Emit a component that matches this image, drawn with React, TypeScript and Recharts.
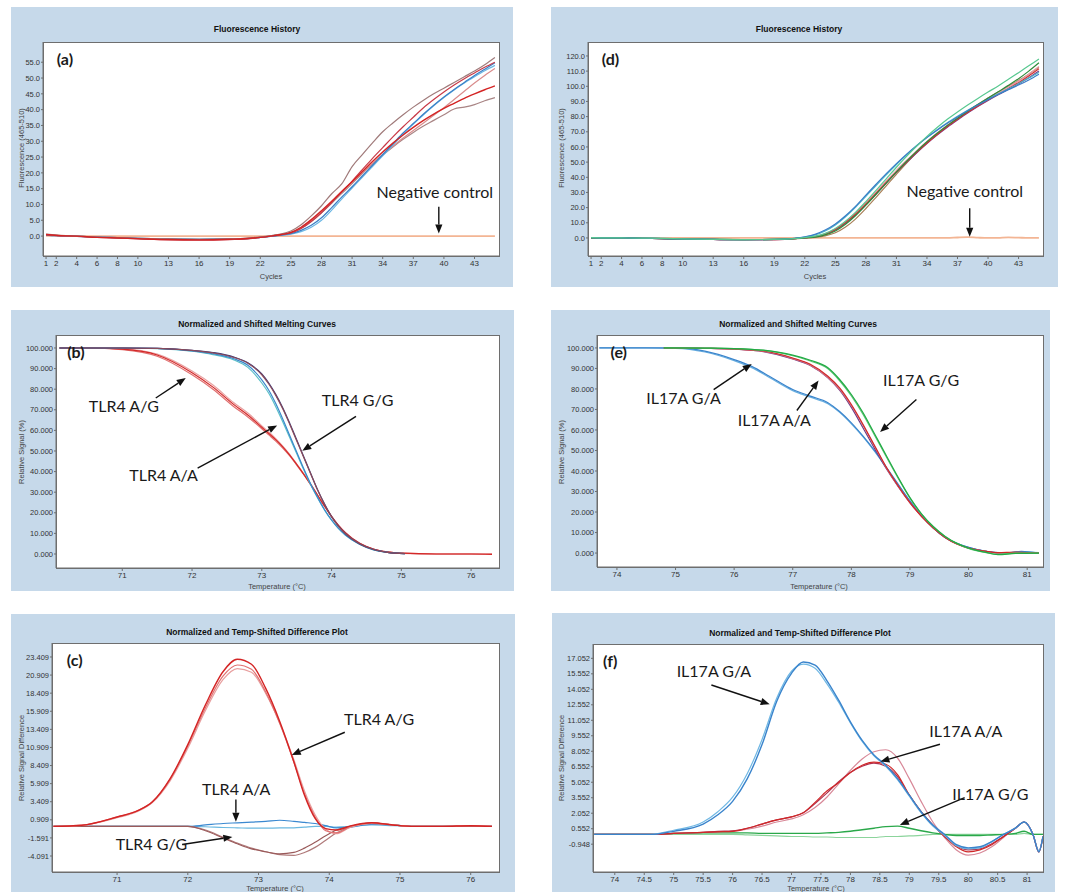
import React from 'react';
import { LineChart, Line, XAxis, YAxis, ReferenceLine, ReferenceDot } from 'recharts';

// ---- (a) / (d) amplification curves, sampled cycles ----
const CYCLES = [1, 2, 4, 6, 8, 10, 13, 16, 19, 21, 22, 23, 24, 25, 26, 27, 28, 29, 30, 31, 32, 33, 34, 35, 36, 37, 38, 39, 40, 41, 42, 43, 44, 45];
const CYCLE_TICKS = [1, 2, 4, 6, 8, 10, 13, 16, 19, 22, 25, 28, 31, 34, 37, 40, 43];
const A_Y_TICKS = [0, 5, 10, 15, 20, 25, 30, 35, 40, 45, 50, 55];
const D_Y_TICKS = [0, 10, 20, 30, 40, 50, 60, 70, 80, 90, 100, 110, 120];

const A_MAUVE = [0.6, 0.3, 0.0, -0.3, -0.5, -0.7, -0.9, -1.0, -0.9, -0.6, -0.3, 0.1, 0.6, 1.6, 3.6, 6.4, 9.6, 13.4, 16.6, 22.0, 25.8, 29.5, 33.0, 35.8, 38.4, 40.8, 43.0, 45.0, 46.8, 48.6, 50.4, 52.2, 54.2, 56.5];
const A_RED = [0.5, 0.2, 0.0, -0.4, -0.6, -0.8, -1.1, -1.2, -1.0, -0.7, -0.4, 0.0, 0.5, 1.2, 2.8, 5.2, 8.0, 11.0, 14.2, 17.2, 20.4, 23.6, 26.6, 29.4, 32.0, 34.4, 36.6, 38.6, 40.4, 42.0, 43.6, 45.0, 46.3, 47.5];
const A_DARKRED = [0.4, 0.2, -0.1, -0.4, -0.6, -0.9, -1.2, -1.3, -1.1, -0.8, -0.4, 0.0, 0.4, 1.0, 2.4, 4.6, 7.4, 10.6, 14.0, 17.4, 21.0, 24.6, 28.0, 31.4, 34.6, 37.6, 40.6, 43.2, 45.6, 47.8, 49.8, 51.6, 53.4, 55.0];
const A_BLUE = [0.3, 0.1, -0.1, -0.3, -0.5, -0.7, -0.9, -1.0, -0.9, -0.7, -0.4, -0.1, 0.3, 0.8, 1.8, 3.4, 5.8, 9.0, 12.4, 15.6, 19.0, 22.4, 25.8, 29.2, 32.6, 35.6, 38.6, 41.4, 44.0, 46.4, 48.6, 50.8, 52.8, 54.8];
const A_LIGHTBLUE = [0.3, 0.1, -0.1, -0.3, -0.5, -0.7, -0.9, -1.0, -0.9, -0.7, -0.4, -0.1, 0.2, 0.6, 1.4, 2.8, 5.0, 8.2, 11.8, 15.2, 18.6, 22.0, 25.4, 28.8, 32.2, 35.4, 38.4, 41.2, 43.8, 46.2, 48.4, 50.4, 52.3, 54.0];
const A_PINK = [0.5, 0.2, 0.0, -0.3, -0.5, -0.8, -1.0, -1.1, -1.0, -0.7, -0.4, 0.0, 0.5, 1.1, 2.6, 5.0, 7.8, 10.8, 14.0, 17.0, 20.0, 23.0, 25.8, 28.4, 31.0, 33.4, 35.8, 38.2, 40.6, 43.2, 45.8, 48.4, 50.8, 53.0];
const A_BROWN = [0.5, 0.2, 0.0, -0.3, -0.5, -0.7, -0.9, -1.0, -0.9, -0.6, -0.3, 0.1, 0.5, 1.0, 2.4, 4.6, 7.4, 10.4, 13.5, 16.6, 19.8, 22.8, 25.6, 28.2, 30.6, 32.8, 34.8, 36.6, 38.4, 40.2, 40.8, 41.6, 42.8, 43.8];
const A_NEG = [0.1, 0.1, 0, 0, 0, 0, 0, 0, 0, 0, 0, 0, 0, 0, 0, 0, 0, 0, 0, 0, 0, 0, 0, 0, 0, 0, 0, 0, 0, 0, 0, 0, 0, 0];

const D_LIGHTGREEN = [0.2, 0.1, 0, -0.1, -0.3, -0.6, -0.9, -1.1, -1.0, -0.5, 0.3, 1.2, 3.0, 6.2, 11.0, 17.0, 24.0, 31.4, 39.0, 46.6, 53.8, 60.6, 67.0, 72.8, 78.2, 83.0, 87.6, 92.0, 96.2, 100.2, 104.6, 109.0, 113.5, 118.0];
const D_BLUE = [0.2, 0.1, 0, -0.2, -0.4, -0.7, -1.0, -1.2, -1.0, -0.2, 0.8, 2.4, 5.2, 9.2, 14.6, 21.0, 28.2, 35.4, 42.4, 49.0, 55.2, 61.0, 66.2, 71.0, 75.6, 79.8, 83.8, 87.6, 91.2, 94.6, 97.8, 100.8, 104.2, 108.0];
const D_DARKGREEN = [0.1, 0.0, 0, -0.2, -0.4, -0.7, -1.0, -1.1, -1.0, -0.5, 0.1, 0.6, 2.0, 4.6, 9.0, 14.8, 21.6, 28.8, 36.2, 43.6, 50.6, 57.2, 63.4, 69.0, 74.2, 79.0, 83.6, 88.0, 92.2, 96.4, 100.6, 105.0, 110.0, 115.5];
const D_RED = [0.1, 0.0, 0, -0.2, -0.4, -0.7, -1.0, -1.2, -1.1, -0.5, 0.2, 0.9, 2.6, 5.6, 10.2, 15.8, 22.4, 29.4, 36.6, 43.6, 50.2, 56.6, 62.6, 68.2, 73.4, 78.2, 82.8, 87.0, 91.0, 94.8, 98.6, 102.4, 106.8, 111.5];
const D_PURPLE = [0.1, 0.0, 0, -0.2, -0.4, -0.7, -1.0, -1.2, -1.1, -0.5, 0.2, 0.8, 2.4, 5.2, 9.8, 15.4, 22.0, 29.0, 36.2, 43.2, 49.8, 56.2, 62.2, 67.8, 73.0, 77.8, 82.4, 86.6, 90.6, 94.4, 98.0, 101.6, 105.6, 110.0];
const D_TEAL = [0.2, 0.1, 0, -0.1, -0.3, -0.6, -0.9, -1.1, -1.0, -0.3, 0.6, 2.0, 4.6, 8.6, 14.0, 20.4, 27.4, 34.6, 41.6, 48.4, 54.8, 60.8, 66.4, 71.4, 76.0, 80.2, 84.2, 88.0, 91.6, 95.0, 98.4, 101.8, 105.4, 109.2];
const D_BROWN = [0.1, 0.0, 0, -0.2, -0.4, -0.7, -1.0, -1.1, -1.0, -0.6, -0.1, 0.4, 1.4, 3.4, 7.2, 12.6, 19.4, 26.8, 34.4, 42.0, 49.4, 56.4, 62.8, 68.6, 74.0, 79.0, 83.6, 88.0, 92.2, 96.2, 100.0, 103.8, 108.0, 112.5];
const D_PINK = [0.1, 0.0, 0, -0.2, -0.4, -0.7, -1.0, -1.2, -1.1, -0.5, 0.2, 0.9, 2.8, 6.0, 10.8, 16.6, 23.4, 30.4, 37.6, 44.6, 51.2, 57.6, 63.6, 69.2, 74.4, 79.2, 83.8, 88.0, 92.0, 95.8, 99.6, 103.4, 108.0, 113.0];
const D_NEG = [0, 0, 0, 0, 0, 0, 0, 0, 0, 0, 0, 0, 0, 0, 0, 0, 0, 0, 0, 0, 0, 0, 0, 0, 0, 0.3, 0.5, 0.2, 0, 0.1, 0.4, 0.2, 0, 0.1];

// ---- (b) TLR4 melting curves ----
const B_X_TICKS = [71, 72, 73, 74, 75, 76];
const MELT_Y_TICKS = [0, 10, 20, 30, 40, 50, 60, 70, 80, 90, 100];
const B_TEMP_AG = [70.1, 70.5, 71, 71.5, 72, 72.3, 72.6, 72.8, 73, 73.1, 73.2, 73.3, 73.4, 73.5, 73.6, 73.7, 73.8, 73.9, 74, 74.1, 74.2, 74.4, 74.6, 74.8, 75, 75.5, 76, 76.3];
const B_AG_1 = [100, 100, 99.4, 96.6, 88, 81, 72.5, 67.5, 61.5, 58.5, 55.5, 52, 48, 43.5, 38.8, 33.8, 28.5, 23.2, 18.2, 13.8, 10.2, 5.2, 2.4, 1.0, 0.4, 0, 0, -0.2];
const B_AG_2 = [100, 100, 99.2, 96.0, 87, 80, 71.5, 66.5, 60.8, 57.8, 54.8, 51.4, 47.6, 43.2, 38.6, 33.6, 28.4, 23.2, 18.3, 13.9, 10.3, 5.3, 2.4, 1.0, 0.4, 0, 0, 0];
const B_AG_3 = [100, 100, 99.6, 97.0, 88.8, 82, 73.4, 68.4, 62.2, 59.2, 56.0, 52.4, 48.4, 43.8, 39.0, 34.0, 28.6, 23.3, 18.3, 13.9, 10.2, 5.2, 2.3, 0.9, 0.3, 0, 0, 0];
const B_TEMP_HOM = [70.1, 70.5, 71, 71.5, 72, 72.3, 72.6, 72.8, 73, 73.1, 73.2, 73.3, 73.4, 73.5, 73.6, 73.7, 73.8, 73.9, 74, 74.1, 74.2, 74.4, 74.6, 74.8, 75.05];
const B_GG_1 = [100, 100, 100, 99.8, 98.8, 97.6, 95.4, 92.6, 87, 82.5, 77, 70.5, 63, 55, 47, 39, 31, 24, 18, 13.4, 9.8, 5, 2.2, 0.8, 0.2];
const B_GG_2 = [100, 100, 100, 99.8, 98.9, 97.8, 95.6, 92.8, 87.4, 83, 77.5, 71, 63.5, 55.5, 47.3, 39.2, 31.2, 24.2, 18.2, 13.5, 9.8, 5, 2.2, 0.8, 0.2];
const B_AA_1 = [100, 100, 100, 99.8, 98.6, 97.2, 94.8, 91.6, 84.5, 79.5, 73, 65.5, 57.5, 49.5, 41.5, 34, 27.5, 21.5, 16.5, 12.4, 9.2, 4.8, 2.1, 0.8, 0.2];
const B_AA_2 = [100, 100, 100, 99.7, 98.4, 96.8, 94.2, 90.6, 83, 78, 71.5, 64.2, 56.5, 48.8, 41, 33.6, 27.2, 21.3, 16.4, 12.3, 9.1, 4.7, 2.0, 0.8, 0.2];

// ---- (e) IL17A melting curves ----
const E_X_TICKS = [74, 75, 76, 77, 78, 79, 80, 81];
const E_TEMP_GA = [73.7, 74.5, 75, 75.5, 76, 76.3, 76.6, 77, 77.3, 77.6, 77.8, 78, 78.2, 78.4, 78.6, 78.8, 79, 79.2, 79.4, 79.6, 79.8, 80, 80.3, 80.6, 80.9, 81.2];
const E_GA_1 = [100, 100, 100, 98.4, 94.3, 91, 86.2, 79.7, 76.5, 73.3, 69, 63.5, 57, 49.8, 41.7, 33.5, 25.4, 18.2, 12.2, 7.6, 4.7, 2.8, 0.8, 0, 0.8, 0];
const E_GA_2 = [100, 100, 99.8, 98.0, 93.8, 90.4, 85.6, 79.2, 76.0, 72.8, 68.6, 63.0, 56.6, 49.4, 41.4, 33.3, 25.3, 18.1, 12.2, 7.6, 4.7, 2.8, 0.8, 0.1, 0.6, 0.2];
const E_TEMP_HOM = [74.8, 75.5, 76, 76.5, 77, 77.3, 77.6, 77.8, 78, 78.2, 78.4, 78.6, 78.8, 79, 79.2, 79.4, 79.6, 79.8, 80, 80.3, 80.5, 80.8, 81.2];
const E_AA_1 = [100, 99.8, 99.5, 98.5, 95.1, 92, 86.2, 80.5, 72.4, 62.7, 52.2, 41.7, 32.7, 24.6, 17.8, 12.2, 7.6, 4.4, 2.4, 0.8, 0.2, 0.4, 0];
const E_AA_2 = [100, 99.8, 99.4, 98.3, 94.8, 91.6, 85.6, 79.8, 71.8, 62.2, 51.8, 41.4, 32.5, 24.5, 17.8, 12.2, 7.6, 4.4, 2.4, 0.8, 0.0, 0.3, 0];
const E_AA_3 = [100, 99.8, 99.4, 98.2, 94.6, 91.4, 85.4, 79.4, 71.0, 61.0, 50.8, 41.0, 32.4, 24.6, 17.9, 12.2, 7.6, 4.5, 2.5, 0.8, 0.0, 0.3, 0];
const E_GG_1 = [100, 99.9, 99.7, 98.9, 96.5, 94, 90.3, 84.6, 77.3, 68.4, 57.9, 47.3, 36.8, 27, 19, 12.8, 8.1, 4.7, 2.4, 0.3, -0.8, -0.2, 0];
const E_GG_2 = [100, 99.9, 99.7, 98.8, 96.2, 93.6, 89.8, 84.0, 76.6, 67.6, 57.2, 46.7, 36.4, 26.8, 18.9, 12.8, 8.1, 4.7, 2.3, 0.2, -0.6, 0.0, 0];

// ---- (c) TLR4 difference plot ----
const C_X_TICKS = [71, 72, 73, 74, 75, 76];
const C_Y_TICKS = [-4.091, -1.591, 0.909, 3.409, 5.909, 8.409, 10.909, 13.409, 15.909, 18.409, 20.909, 23.409];
const C_TEMP = [70.1, 70.5, 71, 71.3, 71.5, 71.75, 72, 72.25, 72.5, 72.7, 72.9, 73.1, 73.3, 73.5, 73.65, 73.8, 73.95, 74.1, 74.3, 74.6, 74.9, 75.2, 75.6, 76, 76.3];
const C_AG_1 = [0, 0.16, 1.3, 2.2, 3.4, 6.6, 11.3, 16.8, 21.4, 23.1, 22.4, 19.1, 14.5, 8.9, 4.3, 1.1, -0.3, -0.5, 0.07, 0.5, 0.2, 0, 0, 0.1, 0];
const C_AG_2 = [0, 0.15, 1.3, 2.2, 3.4, 6.5, 11.1, 16.4, 20.8, 22.3, 21.7, 18.6, 14.2, 8.9, 4.5, 1.3, -0.6, -0.9, 0, 0.5, 0.2, 0, 0, 0.1, 0];
const C_AG_3 = [0, 0.15, 1.2, 2.1, 3.3, 6.3, 10.8, 16.0, 20.3, 21.8, 21.3, 18.4, 14.3, 9.2, 4.9, 1.6, -0.4, -1.0, -0.1, 0.4, 0.2, 0, 0, 0.1, 0];
const C_GG_1 = [0, 0, 0, 0, 0, 0, 0, -0.6, -1.6, -2.4, -3.1, -3.5, -3.8, -3.6, -3.0, -2.2, -1.3, -0.5, 0, 0.5, 0.2, 0, 0, 0, 0];
const C_GG_2 = [0, 0, 0, 0, 0, 0, 0, -0.5, -1.5, -2.3, -3.0, -3.5, -3.9, -4.0, -3.6, -2.9, -1.9, -0.9, -0.1, 0.4, 0.2, 0, 0, 0, 0];
const C_AA_1 = [0, 0, 0, 0, 0, 0, 0, 0.2, 0.4, 0.5, 0.6, 0.7, 0.85, 0.7, 0.55, 0.4, 0.1, -0.2, -0.1, 0.3, 0.2, 0, 0, 0, 0];
const C_AA_2 = [0, 0, 0, 0, 0, 0, 0, -0.05, -0.15, -0.2, -0.25, -0.25, -0.2, -0.2, -0.1, 0, 0, -0.1, 0, 0.2, 0.1, 0, 0, 0, 0];

// ---- (f) IL17A difference plot ----
const F_X_TICKS = [74, 74.5, 75, 75.5, 76, 76.5, 77, 77.5, 78, 78.5, 79, 79.5, 80, 80.5, 81];
const F_Y_TICKS = [-0.948, 0.552, 2.052, 3.552, 5.052, 6.552, 8.052, 9.552, 11.052, 12.552, 14.052, 15.552, 17.052];
const F_TEMP = [73.65, 74.6, 75, 75.5, 75.75, 76, 76.25, 76.5, 76.75, 77, 77.2, 77.4, 77.6, 77.8, 78, 78.2, 78.4, 78.6, 78.8, 79, 79.2, 79.4, 79.6, 79.8, 80, 80.2, 80.4, 80.6, 80.8, 80.95, 81.1, 81.2, 81.27];
const F_GA_1 = [0, 0, 0.3, 1.0, 1.9, 3.2, 5.4, 8.7, 12.9, 15.6, 16.7, 16.4, 14.9, 13.0, 10.9, 9.1, 7.7, 6.7, 5.4, 3.8, 2.2, 0.9, 0, -1.0, -1.3, -1.2, -0.7, 0, 0.6, 1.2, 0, -1.7, -0.2];
const F_GA_2 = [0, 0, 0.4, 1.2, 2.2, 3.6, 5.9, 9.2, 13.2, 15.8, 16.5, 16.1, 14.6, 12.8, 10.8, 9.0, 7.6, 6.6, 5.3, 3.7, 2.1, 0.8, -0.1, -1.1, -1.4, -1.3, -0.7, 0, 0.6, 1.2, 0, -1.6, -0.2];
const F_AA_1 = [0, 0, 0.1, 0.2, 0.25, 0.3, 0.6, 1.0, 1.4, 1.7, 2.1, 3.1, 4.2, 5.0, 6.0, 6.7, 7.0, 6.8, 5.8, 3.8, 2.2, 0.9, -0.2, -1.2, -1.7, -1.5, -1.0, -0.2, 0.6, 1.2, 0, -1.7, -0.2];
const F_AA_2 = [0, 0, 0.1, 0.2, 0.25, 0.3, 0.5, 0.8, 1.2, 1.5, 1.9, 2.6, 3.6, 4.9, 6.2, 7.3, 8.0, 8.2, 7.4, 5.4, 3.2, 1.2, -0.3, -1.5, -2.0, -1.8, -1.2, -0.3, 0.6, 1.2, 0, -1.6, -0.2];
const F_AA_3 = [0, 0, 0.1, 0.2, 0.3, 0.35, 0.6, 1.0, 1.4, 1.7, 2.1, 3.0, 4.0, 5.1, 6.0, 6.6, 6.9, 6.6, 5.6, 3.8, 2.2, 0.9, -0.2, -1.1, -1.5, -1.4, -0.9, -0.2, 0.6, 1.2, 0, -1.7, -0.2];
const F_GG_1 = [0, 0, 0.1, 0.15, 0.15, 0.15, 0.15, 0.1, 0.1, 0.1, 0.1, 0.1, 0.15, 0.2, 0.3, 0.45, 0.6, 0.75, 0.8, 0.6, 0.35, 0.15, 0, -0.1, -0.1, -0.1, -0.05, 0, 0.1, 0.3, 0, 0, 0];
const F_GG_2 = [0, 0, 0, 0, 0, 0, -0.05, -0.1, -0.15, -0.2, -0.2, -0.25, -0.25, -0.3, -0.3, -0.3, -0.3, -0.2, -0.2, -0.15, -0.1, 0, 0, 0, 0, 0, 0, 0, 0, 0.1, 0, 0, 0];

// annotations, in data units
const A_NOTES = [{ text: '(a)', x: 2.05, y: 54.1, bold: true }, { text: 'Negative control', x: 33.4, y: 12.2 }];
const A_ARROWS = [{ x1: 39.5, y1: 9.3, x2: 39.5, y2: 0.85 }];
const D_NOTES = [{ text: '(d)', x: 2.05, y: 114, bold: true }, { text: 'Negative control', x: 32.0, y: 27.2 }];
const D_ARROWS = [{ x1: 38.2, y1: 19.6, x2: 38.2, y2: 0.8 }];
const B_NOTES = [{ text: '(b)', x: 70.21, y: 95.1, bold: true }, { text: 'TLR4 A/G', x: 70.52, y: 68.9 }, { text: 'TLR4 G/G', x: 73.86, y: 71.6 }, { text: 'TLR4 A/A', x: 71.1, y: 35.5 }];
const B_ARROWS = [{ x1: 71.48, y1: 75.7, x2: 71.91, y2: 85.4 }, { x1: 74.35, y1: 66.8, x2: 73.58, y2: 50.1 }, { x1: 72.08, y1: 41.7, x2: 73.22, y2: 62.4 }];
const E_NOTES = [{ text: '(e)', x: 73.89, y: 95.1, bold: true }, { text: 'IL17A G/A', x: 74.5, y: 72.8 }, { text: 'IL17A A/A', x: 76.06, y: 61.9 }, { text: 'IL17A G/G', x: 78.54, y: 81.4 }];
const E_ARROWS = [{ x1: 75.65, y1: 79.7, x2: 76.3, y2: 92.2 }, { x1: 77.07, y1: 69.5, x2: 77.44, y2: 84.1 }, { x1: 79.11, y1: 74.9, x2: 78.49, y2: 59 }];
const C_NOTES = [{ text: '(c)', x: 70.29, y: 22.1, bold: true }, { text: 'TLR4 A/G', x: 74.21, y: 14.03 }, { text: 'TLR4 A/A', x: 72.2, y: 4.32 }, { text: 'TLR4 G/G', x: 70.98, y: -3.3 }];
const C_ARROWS = [{ x1: 74.22, y1: 13.01, x2: 73.47, y2: 9.87 }, { x1: 72.68, y1: 3.72, x2: 72.68, y2: 0.63 }, { x1: 71.92, y1: -2.5, x2: 72.63, y2: -1.45 }];
const F_NOTES = [{ text: '(f)', x: 73.8, y: 16.2, bold: true }, { text: 'IL17A G/A', x: 75.05, y: 15.28 }, { text: 'IL17A A/A', x: 79.34, y: 9.47 }, { text: 'IL17A G/G', x: 79.73, y: 3.34 }];
const F_ARROWS = [{ x1: 75.64, y1: 14.47, x2: 76.63, y2: 12.6 }, { x1: 79.52, y1: 8.73, x2: 78.51, y2: 7.05 }, { x1: 79.94, y1: 3.57, x2: 78.84, y2: 0.92 }];

const FRAME_BG = '#c6d9ea';
const UI_FONT = '"Liberation Sans", Arial, sans-serif';
const NOTE_FONT = 'Lato, "Open Sans", sans-serif';

const pts = (xs: number[], ys: number[]) => xs.map((x, i) => ({ x, y: ys[i] }));

const Arrow = (p: any) => {
  const { x1, y1, x2, y2 } = p;
  const ang = Math.atan2(y2 - y1, x2 - x1);
  const len = 9;
  const hw = 3.6;
  const bx = x2 - len * Math.cos(ang);
  const by = y2 - len * Math.sin(ang);
  const s = Math.sin(ang);
  const c = Math.cos(ang);
  return (
    <g>
      <line x1={x1} y1={y1} x2={bx} y2={by} stroke="#111" strokeWidth={1.4} />
      <polygon points={`${x2},${y2} ${bx + hw * s},${by - hw * c} ${bx - hw * s},${by + hw * c}`} fill="#111" />
    </g>
  );
};

const noteShape = (text: string, bold?: boolean) => (p: any) => (
  <text x={p.cx} y={p.cy} fill="#1a1a1a" fontFamily={NOTE_FONT} fontSize={16} fontWeight={bold ? 700 : 400}>
    {text}
  </text>
);

type Box = { l: number; t: number; r: number; b: number };
type Series = { x: number[]; y: number[]; color: string; w?: number };

interface PanelProps {
  frame: Box;
  plot: Box;
  title: string;
  titleAt: [number, number];
  xLabel: string;
  xLabelAt: [number, number];
  yLabel: string;
  yLabelAt: [number, number];
  xDomain: [number, number];
  yDomain: [number, number];
  xTicks: number[];
  yTicks: number[];
  xFmt: (v: number) => string;
  yFmt: (v: number) => string;
  series: Series[];
  notes: { text: string; x: number; y: number; bold?: boolean }[];
  arrows: { x1: number; y1: number; x2: number; y2: number }[];
}

function Panel(p: PanelProps) {
  const W = p.frame.r - p.frame.l;
  const H = p.frame.b - p.frame.t;
  const xAxisH = 20;
  const tickStyle = { fontSize: 7.5, fill: '#333', fontFamily: UI_FONT };
  return (
    <>
      <div style={{ position: 'absolute', left: p.frame.l, top: p.frame.t, width: W, height: H, background: FRAME_BG }}>
        <div
          style={{
            position: 'absolute',
            left: p.plot.l - p.frame.l,
            top: p.plot.t - p.frame.t,
            width: p.plot.r - p.plot.l + 1,
            height: p.plot.b - p.plot.t + 1,
            background: '#fff',
            border: '1px solid #6e6e6e',
            boxSizing: 'border-box',
          }}
        />
        <div style={{ position: 'absolute', left: 0, top: 0 }}>
          <LineChart
            width={W}
            height={H}
            margin={{ top: p.plot.t - p.frame.t, right: p.frame.r - p.plot.r, bottom: Math.max(0, p.frame.b - p.plot.b - xAxisH), left: 0 }}
          >
            <XAxis
              type="number"
              dataKey="x"
              domain={p.xDomain}
              ticks={p.xTicks}
              interval={0}
              allowDataOverflow
              height={xAxisH}
              tick={{ ...tickStyle, fontSize: 8 }}
              tickFormatter={p.xFmt}
              tickSize={3}
              tickMargin={1}
              axisLine={{ stroke: '#6e6e6e' }}
              tickLine={{ stroke: '#6e6e6e' }}
            />
            <YAxis
              type="number"
              domain={p.yDomain}
              ticks={p.yTicks}
              interval={0}
              allowDataOverflow
              width={p.plot.l - p.frame.l}
              tick={tickStyle}
              tickFormatter={p.yFmt}
              tickSize={2}
              tickMargin={1}
              axisLine={{ stroke: '#6e6e6e' }}
              tickLine={{ stroke: '#6e6e6e' }}
            />
            {p.series.map((s, i) => (
              <Line
                key={i}
                data={pts(s.x, s.y)}
                dataKey="y"
                type="monotone"
                stroke={s.color}
                strokeWidth={s.w ?? 1.2}
                dot={false}
                activeDot={false}
                isAnimationActive={false}
              />
            ))}
            {p.arrows.map((a, i) => (
              <ReferenceLine
                key={'a' + i}
                segment={[{ x: a.x1, y: a.y1 }, { x: a.x2, y: a.y2 }]}
                shape={Arrow}
                ifOverflow="visible"
              />
            ))}
            {p.notes.map((n, i) => (
              <ReferenceDot key={'n' + i} x={n.x} y={n.y} r={0} ifOverflow="visible" shape={noteShape(n.text, n.bold)} />
            ))}
          </LineChart>
        </div>
      </div>
      <div
        style={{
          position: 'absolute',
          left: p.titleAt[0],
          top: p.titleAt[1],
          transform: 'translate(-50%, -50%)',
          fontFamily: UI_FONT,
          fontWeight: 700,
          fontSize: 8.5,
          color: '#111',
          whiteSpace: 'nowrap',
        }}
      >
        {p.title}
      </div>
      <div
        style={{
          position: 'absolute',
          left: p.xLabelAt[0],
          top: p.xLabelAt[1],
          transform: 'translate(-50%, -50%)',
          fontFamily: UI_FONT,
          fontSize: 7.5,
          color: '#444',
          whiteSpace: 'nowrap',
        }}
      >
        {p.xLabel}
      </div>
      <div
        style={{
          position: 'absolute',
          left: p.yLabelAt[0],
          top: p.yLabelAt[1],
          transform: 'translate(-50%, -50%) rotate(-90deg)',
          fontFamily: UI_FONT,
          fontSize: 7.5,
          color: '#444',
          whiteSpace: 'nowrap',
        }}
      >
        {p.yLabel}
      </div>
    </>
  );
}

const f1 = (v: number) => v.toFixed(1);
const f3 = (v: number) => v.toFixed(3);
const f0 = (v: number) => String(v);

const SERIES_A: Series[] = [
  { x: CYCLES, y: A_NEG, color: '#f3b594', w: 1.8 },
  { x: CYCLES, y: A_BROWN, color: '#a98585' },
  { x: CYCLES, y: A_PINK, color: '#d98c8c' },
  { x: CYCLES, y: A_LIGHTBLUE, color: '#6cb8e4' },
  { x: CYCLES, y: A_BLUE, color: '#3a7fc6' },
  { x: CYCLES, y: A_DARKRED, color: '#c83a48' },
  { x: CYCLES, y: A_MAUVE, color: '#a07a7a' },
  { x: CYCLES, y: A_RED, color: '#d42424', w: 1.4 },
];

const SERIES_D: Series[] = [
  { x: CYCLES, y: D_NEG, color: '#f3b594', w: 1.8 },
  { x: CYCLES, y: D_BROWN, color: '#a88058' },
  { x: CYCLES, y: D_PINK, color: '#e89aa8' },
  { x: CYCLES, y: D_PURPLE, color: '#7a3c8c' },
  { x: CYCLES, y: D_RED, color: '#d23030' },
  { x: CYCLES, y: D_TEAL, color: '#4cb4c8' },
  { x: CYCLES, y: D_DARKGREEN, color: '#2f8a3a' },
  { x: CYCLES, y: D_BLUE, color: '#3a7cc8' },
  { x: CYCLES, y: D_LIGHTGREEN, color: '#58c890' },
];

const SERIES_B: Series[] = [
  { x: B_TEMP_AG, y: B_AG_3, color: '#e8a0a0' },
  { x: B_TEMP_AG, y: B_AG_2, color: '#e07070' },
  { x: B_TEMP_AG, y: B_AG_1, color: '#d42828' },
  { x: B_TEMP_HOM, y: B_AA_2, color: '#5cc0c8' },
  { x: B_TEMP_HOM, y: B_AA_1, color: '#3a88cc' },
  { x: B_TEMP_HOM, y: B_GG_2, color: '#3a3a78' },
  { x: B_TEMP_HOM, y: B_GG_1, color: '#8a4a5a' },
];

const SERIES_E: Series[] = [
  { x: E_TEMP_GA, y: E_GA_2, color: '#6ab0e0' },
  { x: E_TEMP_GA, y: E_GA_1, color: '#3a84cc' },
  { x: E_TEMP_HOM, y: E_AA_3, color: '#6a3a88' },
  { x: E_TEMP_HOM, y: E_AA_2, color: '#d87080' },
  { x: E_TEMP_HOM, y: E_AA_1, color: '#d02828' },
  { x: E_TEMP_HOM, y: E_GG_2, color: '#60c878' },
  { x: E_TEMP_HOM, y: E_GG_1, color: '#22aa44' },
];

const SERIES_C: Series[] = [
  { x: C_TEMP, y: C_AA_2, color: '#6ab8e0' },
  { x: C_TEMP, y: C_AA_1, color: '#3a88d0' },
  { x: C_TEMP, y: C_GG_2, color: '#b07a7a' },
  { x: C_TEMP, y: C_GG_1, color: '#9a5a5a' },
  { x: C_TEMP, y: C_AG_3, color: '#e8a0a0' },
  { x: C_TEMP, y: C_AG_2, color: '#e07070' },
  { x: C_TEMP, y: C_AG_1, color: '#d42424', w: 1.4 },
];

const SERIES_F: Series[] = [
  { x: F_TEMP, y: F_GG_2, color: '#8cd49c' },
  { x: F_TEMP, y: F_GG_1, color: '#2aa84a', w: 1.4 },
  { x: F_TEMP, y: F_AA_2, color: '#d88898' },
  { x: F_TEMP, y: F_AA_3, color: '#b03050' },
  { x: F_TEMP, y: F_AA_1, color: '#d02828' },
  { x: F_TEMP, y: F_GA_2, color: '#70b8e4' },
  { x: F_TEMP, y: F_GA_1, color: '#3a84cc', w: 1.4 },
];

export default function App() {
  return (
    <div style={{ position: 'absolute', left: 0, top: 0, width: 1070, height: 892, overflow: 'hidden', background: '#fff' }}>
      <Panel
        frame={{ l: 11, t: 7, r: 513, b: 287 }}
        plot={{ l: 43, t: 42, r: 499, b: 256 }}
        title="Fluorescence History"
        titleAt={[257, 29]}
        xLabel="Cycles"
        xLabelAt={[271, 276]}
        yLabel="Fluorescence (465-510)"
        yLabelAt={[21, 148]}
        xDomain={[0.7, 45.4]}
        yDomain={[-6.3, 61.4]}
        xTicks={CYCLE_TICKS}
        yTicks={A_Y_TICKS}
        xFmt={f0}
        yFmt={f1}
        series={SERIES_A}
        notes={A_NOTES}
        arrows={A_ARROWS}
      />
      <Panel
        frame={{ l: 551, t: 7, r: 1058, b: 287 }}
        plot={{ l: 588, t: 42, r: 1043, b: 256 }}
        title="Fluorescence History"
        titleAt={[799, 29]}
        xLabel="Cycles"
        xLabelAt={[815, 276]}
        yLabel="Fluorescence (465-510)"
        yLabelAt={[561, 148]}
        xDomain={[0.7, 45.4]}
        yDomain={[-11.9, 129.2]}
        xTicks={CYCLE_TICKS}
        yTicks={D_Y_TICKS}
        xFmt={f0}
        yFmt={f1}
        series={SERIES_D}
        notes={D_NOTES}
        arrows={D_ARROWS}
      />
      <Panel
        frame={{ l: 11, t: 310, r: 514, b: 591 }}
        plot={{ l: 56, t: 335, r: 499, b: 568 }}
        title="Normalized and Shifted Melting Curves"
        titleAt={[257, 324]}
        xLabel="Temperature (°C)"
        xLabelAt={[277, 586]}
        yLabel="Relative Signal (%)"
        yLabelAt={[21, 452]}
        xDomain={[70.05, 76.4]}
        yDomain={[-6.8, 106.3]}
        xTicks={B_X_TICKS}
        yTicks={MELT_Y_TICKS}
        xFmt={f0}
        yFmt={f3}
        series={SERIES_B}
        notes={B_NOTES}
        arrows={B_ARROWS}
      />
      <Panel
        frame={{ l: 551, t: 310, r: 1050, b: 591 }}
        plot={{ l: 597, t: 335, r: 1043, b: 567 }}
        title="Normalized and Shifted Melting Curves"
        titleAt={[798, 324]}
        xLabel="Temperature (°C)"
        xLabelAt={[819, 586]}
        yLabel="Relative Signal (%)"
        yLabelAt={[561, 452]}
        xDomain={[73.66, 81.27]}
        yDomain={[-6.8, 106.3]}
        xTicks={E_X_TICKS}
        yTicks={MELT_Y_TICKS}
        xFmt={f0}
        yFmt={f3}
        series={SERIES_E}
        notes={E_NOTES}
        arrows={E_ARROWS}
      />
      <Panel
        frame={{ l: 11, t: 614, r: 515, b: 892 }}
        plot={{ l: 52, t: 643, r: 499, b: 872 }}
        title="Normalized and Temp-Shifted Difference Plot"
        titleAt={[257, 632]}
        xLabel="Temperature (°C)"
        xLabelAt={[275, 888]}
        yLabel="Relative Signal Difference"
        yLabelAt={[21, 758]}
        xDomain={[70.08, 76.4]}
        yDomain={[-6.3, 25.34]}
        xTicks={C_X_TICKS}
        yTicks={C_Y_TICKS}
        xFmt={f0}
        yFmt={f3}
        series={SERIES_C}
        notes={C_NOTES}
        arrows={C_ARROWS}
      />
      <Panel
        frame={{ l: 552, t: 613, r: 1055, b: 892 }}
        plot={{ l: 593, t: 644, r: 1043, b: 872 }}
        title="Normalized and Temp-Shifted Difference Plot"
        titleAt={[800, 633]}
        xLabel="Temperature (°C)"
        xLabelAt={[816, 888]}
        yLabel="Relative Signal Difference"
        yLabelAt={[561, 758]}
        xDomain={[73.63, 81.27]}
        yDomain={[-3.64, 18.44]}
        xTicks={F_X_TICKS}
        yTicks={F_Y_TICKS}
        xFmt={f0}
        yFmt={f3}
        series={SERIES_F}
        notes={F_NOTES}
        arrows={F_ARROWS}
      />
    </div>
  );
}
